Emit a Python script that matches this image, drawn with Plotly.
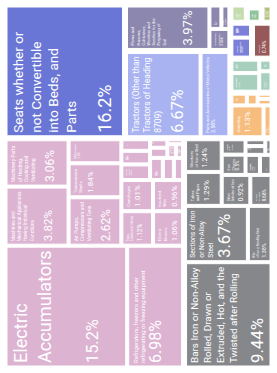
import plotly.graph_objects as go

# ---------------- data ----------------
sections = ["Machines", "Metals", "Furniture", "Transportation", "Agricultural Machinery",
            "Precious Metals", "Chemical Products", "Instruments", "Wood Products",
            "Vegetable Products", "Plastics", "Foodstuffs"]

machines_items = ["Electric Accumulators",
                  "Refrigerators, freezers and other refrigerating or freezing equipment",
                  "Machines and Mechanical Appliances Having Individual Functions",
                  "Machinery for Parts of Heating and Cooling",
                  "Air Pumps, Compressors and Ventilating Fans",
                  "Transmission Shafts", "Electric Motors and Generators",
                  "Taps, Cocks and Valves", "Electric Heaters", "Centrifuges",
                  "Insulated Wire", "Electrical Switches", "Lifting Machinery",
                  "Ball Bearings", "Pumps for Liquids", "Electrical Transformers",
                  "Electric Lighting Equipment", "Industrial Furnaces", "Batteries",
                  "Gaskets", "Soldering Machines", "Fans"]
machines_share = [15.2, 6.98, 3.82, 3.06, 2.62, 1.84, 1.30, 1.12, 1.06, 1.01, 0.96,
                  0.46, 0.40, 0.34, 0.29, 0.25, 0.21, 0.18, 0.15, 0.12, 0.10, 0.08]

metals_items = ["Bars Iron or Non-Alloy Rolled, Drawn or Extruded, Hot, and the Twisted after Rolling",
                "Sections of Iron or Non-Alloy Steel", "Wire of Iron or Non-Alloy Steel",
                "Tubes and Pipes", "Structures of Iron or Steel", "Other Articles of Iron",
                "Screws and Bolts", "Iron Chains", "Copper Wire", "Aluminium Plates",
                "Iron Springs", "Nails", "Stoves", "Iron Wool"]
metals_share = [9.44, 3.67, 1.38, 1.29, 1.24, 0.92, 0.68, 0.50, 0.38, 0.30, 0.24, 0.18, 0.14, 0.10]

furniture_items = ["Seats whether or not Convertible into Beds, and Parts"]
furniture_share = [16.2]

transport_items = ["Tractors (Other than Tractors of Heading 8709)",
                   "Parts and Accessories of Motor Vehicles"]
transport_share = [6.67, 2.58]

agri_items = ["Plows and Harrows, Cultivators, Weeders and Seeders for the Preparing of Soil",
              "Harvesting Machinery", "Dairy Machinery", "Poultry Machinery"]
agri_share = [3.97, 0.45, 0.30, 0.20]

precious_items = ["Jewellery", "Gold", "Silver", "Imitation Jewellery", "Platinum", "Coins"]
precious_share = [1.13, 0.28, 0.20, 0.14, 0.10, 0.08]

chemical_items = ["Medicaments", "Insecticides", "Perfumes", "Soap"]
chemical_share = [0.58, 0.42, 0.28, 0.16]

instrument_items = ["Medical Instruments", "Measuring Instruments"]
instrument_share = [0.46, 0.32]

wood_items = ["Plywood"]
wood_share = [0.74]

vegetable_items = ["Fresh Fruit"]
vegetable_share = [0.30]

plastic_items = ["Plastic Lids", "Rubber Tires"]
plastic_share = [0.22, 0.05]

food_items = ["Sauces"]
food_share = [0.20]

# ---------------- style ----------------
section_color = {"Machines": "#ddb3d2", "Metals": "#86878b", "Furniture": "#6a76d5",
                 "Transportation": "#a9b3f1", "Agricultural Machinery": "#8c87ae",
                 "Precious Metals": "#f6bd7f", "Chemical Products": "#a6cfbd",
                 "Instruments": "#7b7fd8", "Wood Products": "#97585a",
                 "Vegetable Products": "#c3dcae", "Plastics": "#8fc49a",
                 "Foodstuffs": "#b4bf7d"}

# wrapped display labels and font sizes (label size, share size, blank lines)
display = {
    "Seats whether or not Convertible into Beds, and Parts":
        ("Seats whether or<br>not Convertible<br>into Beds, and<br>Parts", 13.5, 18, 1),
    "Electric Accumulators": ("Electric<br>Accumulators", 20, 18, 1),
    "Refrigerators, freezers and other refrigerating or freezing equipment":
        ("Refrigerators, freezers and other<br>refrigerating or freezing equipment", 6, 16, 1),
    "Bars Iron or Non-Alloy Rolled, Drawn or Extruded, Hot, and the Twisted after Rolling":
        ("Bars Iron or Non-Alloy<br>Rolled, Drawn or<br>Extruded, Hot, and the<br>Twisted after Rolling", 10, 17, 1),
    "Tractors (Other than Tractors of Heading 8709)":
        ("Tractors (Other than<br>Tractors of Heading<br>8709)", 9.5, 18, 1),
    "Sections of Iron or Non-Alloy Steel": ("Sections of Iron<br>or Non-Alloy<br>Steel", 7, 17, 1),
    "Machines and Mechanical Appliances Having Individual Functions":
        ("Machines and<br>Mechanical Appliances<br>Having Individual<br>Functions", 5, 12, 2),
    "Machinery for Parts of Heating and Cooling":
        ("Machinery Parts<br>of Heating,<br>Cooling and<br>Ventilating", 5, 12, 2),
    "Plows and Harrows, Cultivators, Weeders and Seeders for the Preparing of Soil":
        ("Plows and<br>Harrows,<br>Cultivators,<br>Weeders and<br>Seeders for the<br>Preparing of<br>Soil", 4, 13, 4),
    "Air Pumps, Compressors and Ventilating Fans":
        ("Air Pumps,<br>Compressors and<br>Ventilating Fans", 5, 12, 2),
    "Parts and Accessories of Motor Vehicles":
        ("Parts and Accessories of Motor Vehicles", 5, 6, 0),
}
medium_style = (4, 8, 1)
small_style = (4, 5, 0)
medium_threshold = 0.6

all_groups = [("Machines", machines_items, machines_share),
              ("Metals", metals_items, metals_share),
              ("Furniture", furniture_items, furniture_share),
              ("Transportation", transport_items, transport_share),
              ("Agricultural Machinery", agri_items, agri_share),
              ("Precious Metals", precious_items, precious_share),
              ("Chemical Products", chemical_items, chemical_share),
              ("Instruments", instrument_items, instrument_share),
              ("Wood Products", wood_items, wood_share),
              ("Vegetable Products", vegetable_items, vegetable_share),
              ("Plastics", plastic_items, plastic_share),
              ("Foodstuffs", food_items, food_share)]

ids = ["root"] + sections
labels = ["World"] + sections
parents = [""] + ["root"] * len(sections)
values = [0] * (1 + len(sections))
colors = ["#ffffff"] * (1 + len(sections))
texts = [""] * (1 + len(sections))
sizes = [10] * (1 + len(sections))

for sec, names, shares in all_groups:
    for n, s in zip(names, shares):
        ids.append(sec + "/" + n)
        labels.append(n)
        parents.append(sec)
        values.append(s)
        colors.append(section_color[sec])
        share_txt = f"{s:.3g}%"
        if n in display:
            lab, lsz, psz, gap = display[n]
        else:
            lsz, psz, gap = medium_style if s >= medium_threshold else small_style
            lab = n.replace(" ", "<br>", 1)
        texts.append(lab + "<br>" * (gap + 1) +
                     f"<span style='font-size:{psz}px'>{share_txt}</span>")
        sizes.append(lsz)

fig = go.Figure(go.Treemap(
    ids=ids, labels=labels, parents=parents, values=values,
    branchvalues="remainder", sort=True,
    text=texts, texttemplate="%{text}", textposition="top left",
    textfont=dict(color="white", size=sizes,
                  family="Liberation Sans Narrow, Roboto, sans-serif"),
    marker=dict(colors=colors, line=dict(color="white", width=1),
                pad=dict(t=1, l=1, r=1, b=1)),
    tiling=dict(packing="squarify", squarifyratio=1.618),
    pathbar=dict(visible=False),
    hoverinfo="skip",
    root=dict(color="white"),
))

fig.update_layout(width=373, height=277, margin=dict(l=5, r=5, t=5, b=5),
                  paper_bgcolor="white", showlegend=False)

rotate_js = """
var d = document.getElementById('{plot_id}');
document.documentElement.style.overflow = 'hidden';
document.body.style.margin = '0';
document.body.style.overflow = 'hidden';
d.style.width = '373px'; d.style.height = '277px';
d.style.position = 'absolute'; d.style.left = '0px'; d.style.top = '0px';
d.style.transformOrigin = '0 0';
d.style.transform = 'translate(0px, 373px) rotate(-90deg)';
"""

fig.write_html("out.html", post_script=rotate_js, config={"displayModeBar": False})
